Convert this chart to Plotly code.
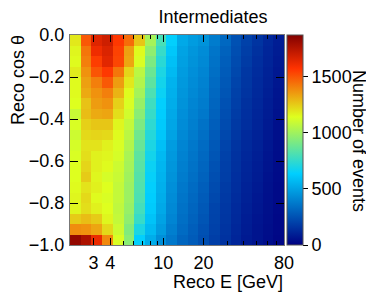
import plotly.graph_objects as go

# Bin edges
e_edges = [2.000, 2.405, 2.893, 3.479, 4.183, 5.030, 6.049, 7.274, 8.747, 10.52,
           12.65, 15.21, 18.29, 22.00, 26.45, 31.81, 38.26, 46.01, 55.33, 66.53, 80.0]
cos_edges = [-1.0, -0.95, -0.9, -0.85, -0.8, -0.75, -0.7, -0.65, -0.6, -0.55, -0.5,
             -0.45, -0.4, -0.35, -0.3, -0.25, -0.2, -0.15, -0.1, -0.05, 0.0]

# Number of events per energy bin; each list runs from cos=0 (top) down to cos=-1 (bottom)
counts_by_energy = [
    [1190, 1160, 1150, 1180, 1150, 1150, 1140, 1090, 1130, 1100, 1120, 1130, 1140, 1140, 1150, 1160, 1160, 1250, 1380, 1830],
    [1490, 1430, 1410, 1370, 1340, 1320, 1270, 1280, 1240, 1220, 1200, 1210, 1230, 1250, 1200, 1220, 1210, 1280, 1370, 1770],
    [1650, 1610, 1550, 1500, 1410, 1370, 1350, 1320, 1260, 1230, 1200, 1170, 1170, 1160, 1170, 1150, 1170, 1250, 1330, 1620],
    [1690, 1660, 1640, 1560, 1490, 1410, 1370, 1330, 1260, 1220, 1170, 1160, 1150, 1120, 1140, 1130, 1140, 1160, 1220, 1390],
    [1560, 1540, 1530, 1430, 1350, 1300, 1240, 1210, 1160, 1150, 1130, 1120, 1100, 1090, 1080, 1080, 1070, 1080, 1100, 1130],
    [1450, 1340, 1330, 1230, 1190, 1150, 1130, 1110, 1080, 1060, 1040, 1020, 1010, 1000, 990, 990, 980, 960, 930, 950],
    [1260, 1150, 1130, 1060, 1040, 1010, 980, 950, 920, 890, 870, 850, 840, 830, 820, 810, 790, 760, 700, 640],
    [1010, 960, 920, 880, 850, 810, 780, 760, 740, 720, 700, 680, 660, 650, 640, 630, 620, 600, 570, 530],
    [800, 760, 730, 700, 680, 660, 640, 630, 620, 610, 590, 570, 560, 550, 540, 530, 520, 500, 480, 440],
    [640, 610, 590, 570, 550, 540, 530, 520, 510, 500, 480, 470, 460, 450, 440, 430, 420, 410, 390, 370],
    [520, 500, 490, 480, 470, 460, 450, 440, 430, 420, 410, 400, 390, 380, 370, 360, 350, 340, 330, 310],
    [480, 460, 450, 440, 430, 420, 410, 400, 390, 380, 370, 360, 350, 340, 330, 320, 310, 300, 290, 280],
    [450, 430, 420, 410, 400, 390, 380, 370, 350, 340, 330, 320, 310, 300, 290, 280, 270, 260, 250, 240],
    [380, 360, 350, 340, 330, 320, 310, 300, 290, 280, 270, 260, 250, 240, 230, 220, 210, 205, 200, 190],
    [320, 300, 290, 280, 270, 260, 250, 240, 230, 220, 210, 200, 195, 190, 180, 175, 170, 165, 160, 155],
    [250, 240, 230, 220, 210, 200, 195, 185, 175, 170, 160, 155, 150, 145, 140, 135, 130, 125, 120, 115],
    [200, 190, 180, 170, 165, 160, 150, 145, 140, 130, 125, 120, 115, 110, 105, 100, 95, 90, 85, 80],
    [160, 150, 140, 135, 130, 125, 120, 115, 110, 105, 100, 95, 90, 85, 80, 75, 70, 65, 62, 60],
    [120, 115, 110, 105, 100, 95, 90, 85, 80, 75, 70, 65, 60, 55, 52, 50, 48, 45, 42, 40],
    [90, 85, 80, 75, 70, 65, 60, 55, 50, 45, 42, 40, 37, 35, 32, 30, 28, 26, 24, 22],
]

x_tick_vals = [3, 4, 10, 20, 80]
x_minor_vals = [2, 5, 6, 7, 8, 9, 30, 40, 50, 60, 70]
y_tick_vals = [0.0, -0.2, -0.4, -0.6, -0.8, -1.0]
cbar_tick_vals = [0, 500, 1000, 1500]
z_max = 1870

# rows ordered bottom (cos=-1) to top (cos=0)
z = [list(row) for row in zip(*counts_by_energy)][::-1]

colorscale = [[0.0, "rgb(0,0,130)"], [0.34, "rgb(0,207,255)"], [0.61, "rgb(222,255,31)"],
              [0.84, "rgb(255,51,0)"], [1.0, "rgb(130,0,0)"]]

FONT = "Liberation Sans, Arial, Helvetica, sans-serif"
FS = 18

# The page body adds an 8px offset, so the figure is sized/placed to compensate.
W, H = 366, 285
L, T = 62, 27
PW, PH = 214, 210

def px_x(p):  # window pixel -> paper x
    return (p - 8 - L) / PW

def px_y(p):  # window pixel -> paper y
    return (T + PH - (p - 8)) / PH

fig = go.Figure(go.Heatmap(
    x=e_edges, y=cos_edges, z=z,
    zmin=0, zmax=z_max, colorscale=colorscale,
    colorbar=dict(
        x=px_x(287), xanchor="left", xpad=0, ypad=0, y=0.5, yanchor="middle",
        len=1.0, lenmode="fraction", thickness=16, thicknessmode="pixels",
        outlinewidth=1, outlinecolor="#555",
        tickmode="array", tickvals=cbar_tick_vals, ticks="outside", ticklen=5,
        tickcolor="black", tickfont=dict(family=FONT, size=FS, color="black"),
    ),
))

fig.update_layout(
    width=W, height=H,
    margin=dict(l=L, r=W - L - PW, t=T, b=H - T - PH, autoexpand=False),
    paper_bgcolor="white", plot_bgcolor="white",
    font=dict(family=FONT, size=FS, color="black"),
    title=dict(text="Intermediates", x=px_x(213), xref="paper", xanchor="center",
               y=1 - (17 - 8) / H, yref="container", yanchor="middle",
               font=dict(family=FONT, size=FS, color="black")),
    xaxis=dict(
        type="log", range=[0.30103, 1.90309], tickmode="array", tickvals=x_tick_vals,
        ticktext=[str(v) for v in x_tick_vals], ticks="inside", ticklen=7, tickcolor="black",
        minor=dict(tickmode="array", tickvals=x_minor_vals, ticks="inside", ticklen=4, tickcolor="black"),
        showline=True, linecolor="#777", linewidth=1, mirror="ticks",
        showgrid=False, zeroline=False, ticklabelstandoff=1,
    ),
    yaxis=dict(
        range=[-1, 0], tickmode="array", tickvals=y_tick_vals,
        ticktext=[("\u2212" if v < 0 else "") + f"{abs(v):.1f}" for v in y_tick_vals],
        ticks="inside", ticklen=8, tickcolor="black",
        showline=True, linecolor="#777", linewidth=1, mirror="ticks",
        showgrid=False, zeroline=False, ticklabelstandoff=1,
    ),
    annotations=[
        dict(text="Reco E [GeV]", xref="paper", yref="paper", x=px_x(285), y=px_y(282),
             xanchor="right", yanchor="middle", showarrow=False,
             font=dict(family=FONT, size=FS, color="black")),
        dict(text="Reco cos \u03b8", xref="paper", yref="paper", x=px_x(18), y=px_y(80),
             xanchor="center", yanchor="middle", textangle=-90, showarrow=False,
             font=dict(family=FONT, size=FS, color="black")),
        dict(text="Number of events", xref="paper", yref="paper", x=px_x(359), y=px_y(141),
             xanchor="center", yanchor="middle", textangle=90, showarrow=False,
             font=dict(family=FONT, size=FS, color="black")),
    ],
)

fig.write_html("out.html")
